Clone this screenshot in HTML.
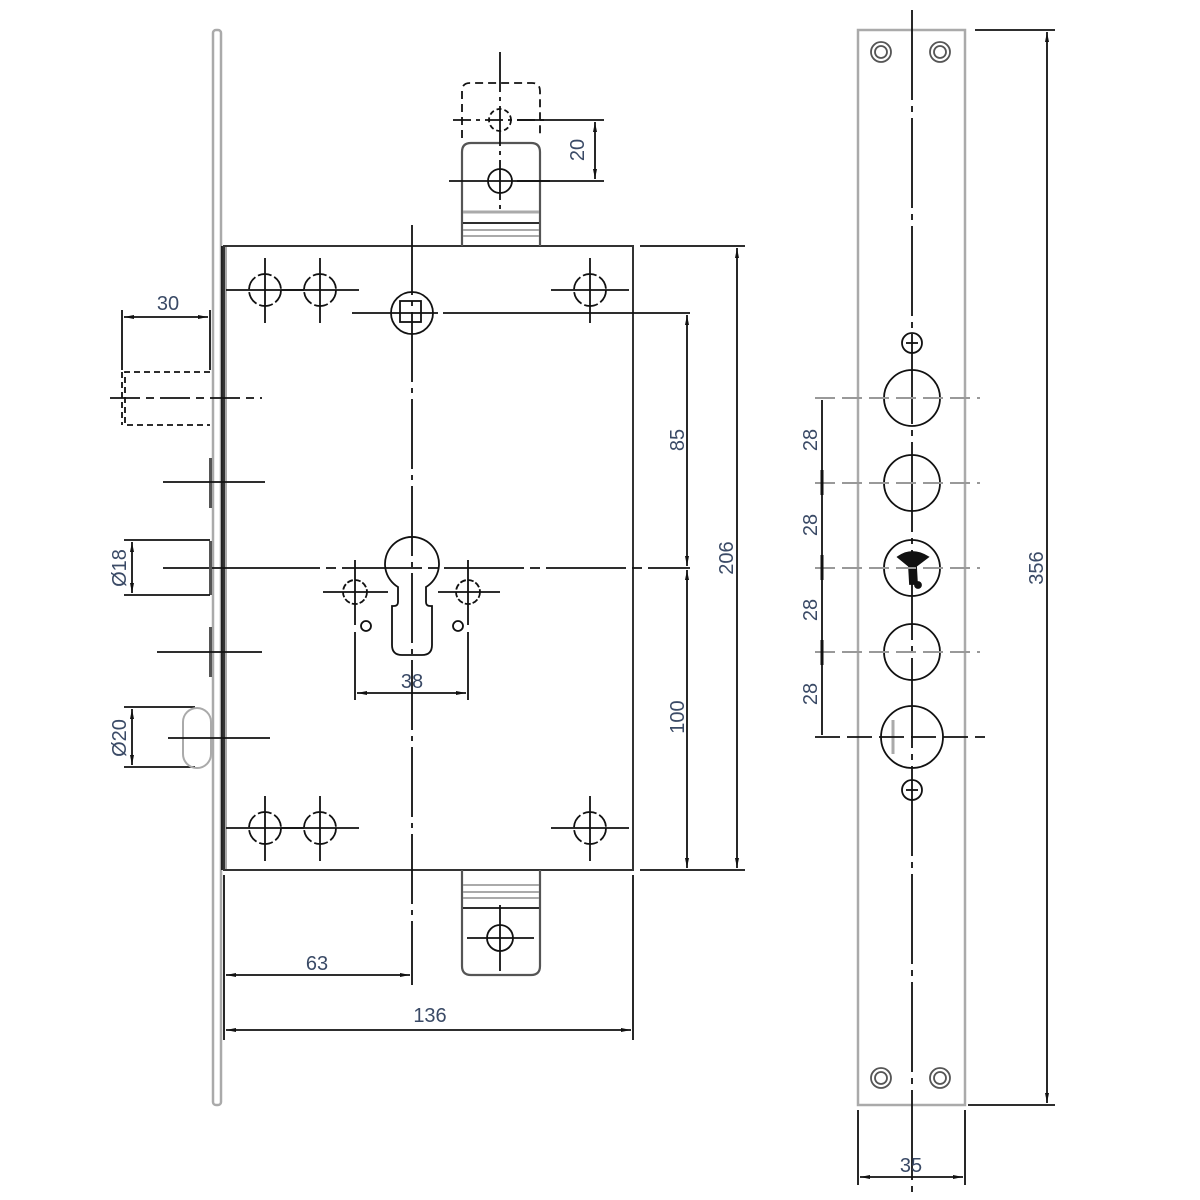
<!DOCTYPE html>
<html><head><meta charset="utf-8"><style>html,body{margin:0;padding:0;background:#fff}svg{display:block}</style></head>
<body>
<svg width="1200" height="1200" viewBox="0 0 1200 1200" xmlns="http://www.w3.org/2000/svg" font-family="Liberation Sans, sans-serif">
<defs>
<marker id="a" markerWidth="10" markerHeight="6" refX="10" refY="3" orient="auto-start-reverse" markerUnits="userSpaceOnUse"><path d="M0,1 L10,3 L0,5z" fill="#111"/></marker>
</defs>
<g fill="none" stroke="#111" stroke-width="1.8">
<rect x="213" y="30" width="8" height="1075" rx="3" stroke="#aaa" stroke-width="2.5"/>
<line x1="222" y1="246" x2="222" y2="870"/>
<line x1="226" y1="246" x2="226" y2="870" stroke="#aaa" stroke-width="2"/>
<rect x="224" y="246" width="409" height="624" stroke="#333" stroke-width="2"/>
<path d="M462,246 V152 q0,-9 9,-9 H531 q9,0 9,9 V246" stroke="#555" stroke-width="2.2"/>
<line x1="463" y1="212" x2="539" y2="212" stroke="#aaa" stroke-width="3"/>
<line x1="463" y1="223" x2="539" y2="223"/>
<line x1="463" y1="230" x2="539" y2="230" stroke="#aaa" stroke-width="2"/>
<line x1="463" y1="236" x2="539" y2="236" stroke="#aaa" stroke-width="2"/>
<path d="M462,138 V91 q0,-8 8,-8 H532 q8,0 8,8 V138" stroke-dasharray="8,5"/>
<circle cx="500" cy="120" r="11" stroke-dasharray="5,3"/>
<line x1="453" y1="120" x2="547" y2="120" stroke-dasharray="18,5,4,5"/>
<line x1="500" y1="52" x2="500" y2="213" stroke-dasharray="40,5,4,5"/>
<circle cx="500" cy="181" r="12"/>
<line x1="449" y1="181" x2="550" y2="181"/>
<line x1="517" y1="120" x2="604" y2="120"/>
<line x1="517" y1="181" x2="604" y2="181"/>
<line x1="595" y1="122" x2="595" y2="179" marker-start="url(#a)" marker-end="url(#a)"/>
<path d="M462,870 V966 q0,9 9,9 H531 q9,0 9,-9 V870" stroke="#555" stroke-width="2.2"/>
<line x1="463" y1="885" x2="539" y2="885" stroke="#aaa" stroke-width="2"/>
<line x1="463" y1="892" x2="539" y2="892" stroke="#aaa" stroke-width="2"/>
<line x1="463" y1="898" x2="539" y2="898" stroke="#aaa" stroke-width="2"/>
<line x1="463" y1="908" x2="539" y2="908"/>
<circle cx="500" cy="938" r="13"/>
<line x1="467" y1="938" x2="534" y2="938"/><line x1="500" y1="905" x2="500" y2="971"/>
<g id="h">
<circle cx="265" cy="290" r="16" stroke-dasharray="14,3"/><line x1="226" y1="290" x2="304" y2="290"/><line x1="265" y1="258" x2="265" y2="323"/>
</g>
<use href="#h" x="55"/><use href="#h" x="325"/><use href="#h" y="538"/><use href="#h" x="55" y="538"/><use href="#h" x="325" y="538"/>
<circle cx="412" cy="313" r="21"/>
<rect x="400" y="301" width="21" height="21"/>
<line x1="352" y1="313" x2="438" y2="313"/><line x1="443" y1="313" x2="690" y2="313"/>
<line x1="412" y1="225" x2="412" y2="985" stroke-dasharray="70,6,5,6"/>
<line x1="163" y1="568" x2="240" y2="568"/><line x1="240" y1="568" x2="690" y2="568" stroke-dasharray="80,6,10,6"/>
<path d="M398,587 A27,27 0 1 1 426,587 V602 Q426,606 430,606 H432 V645 Q432,655 422,655 H402 Q392,655 392,645 V606 H394 Q398,606 398,602 Z"/>
<circle cx="355" cy="592" r="12" stroke-dasharray="6,2"/><circle cx="468" cy="592" r="12" stroke-dasharray="6,2"/>
<line x1="323" y1="592" x2="388" y2="592"/><line x1="438" y1="592" x2="500" y2="592"/>
<line x1="355" y1="560" x2="355" y2="625"/><line x1="468" y1="560" x2="468" y2="625"/>
<circle cx="366" cy="626" r="5"/><circle cx="458" cy="626" r="5"/>
<line x1="355" y1="632" x2="355" y2="700"/><line x1="468" y1="632" x2="468" y2="700"/>
<line x1="357" y1="693" x2="466" y2="693" marker-start="url(#a)" marker-end="url(#a)"/>
<line x1="640" y1="246" x2="745" y2="246"/><line x1="640" y1="870" x2="745" y2="870"/>
<line x1="737" y1="248" x2="737" y2="868" marker-start="url(#a)" marker-end="url(#a)"/>
<line x1="687" y1="315" x2="687" y2="566" marker-start="url(#a)" marker-end="url(#a)"/>
<line x1="687" y1="570" x2="687" y2="868" marker-start="url(#a)" marker-end="url(#a)"/>
<line x1="224" y1="875" x2="224" y2="1040"/><line x1="633" y1="875" x2="633" y2="1040"/>
<line x1="226" y1="975" x2="410" y2="975" marker-start="url(#a)" marker-end="url(#a)"/>
<line x1="226" y1="1030" x2="631" y2="1030" marker-start="url(#a)" marker-end="url(#a)"/>
<line x1="122" y1="310" x2="122" y2="370"/><line x1="210" y1="310" x2="210" y2="370"/>
<line x1="124" y1="317" x2="208" y2="317" marker-start="url(#a)" marker-end="url(#a)"/>
<path d="M210,372 H125 V425 H210" stroke-dasharray="6,4"/><line x1="122" y1="372" x2="122" y2="425" stroke-dasharray="6,4"/>
<line x1="110" y1="398" x2="262" y2="398" stroke-dasharray="30,6,8,6"/>
<rect x="209" y="458" width="3" height="50" fill="#555" stroke="none"/>
<rect x="209" y="541" width="3" height="54" fill="#555" stroke="none"/>
<rect x="209" y="627" width="3" height="50" fill="#555" stroke="none"/>
<line x1="163" y1="482" x2="265" y2="482"/>
<line x1="157" y1="652" x2="262" y2="652"/>
<line x1="124" y1="540" x2="210" y2="540"/><line x1="124" y1="595" x2="210" y2="595"/>
<line x1="132" y1="542" x2="132" y2="593" marker-start="url(#a)" marker-end="url(#a)"/>
<line x1="124" y1="707" x2="195" y2="707"/><line x1="124" y1="767" x2="195" y2="767"/>
<line x1="132" y1="709" x2="132" y2="765" marker-start="url(#a)" marker-end="url(#a)"/>
<rect x="183" y="708" width="28" height="60" rx="14" stroke="#aaa" stroke-width="2"/>
<line x1="168" y1="738" x2="270" y2="738"/>
<rect x="858" y="30" width="107" height="1075" stroke="#aaa" stroke-width="2.5"/>
<line x1="912" y1="10" x2="912" y2="1195" stroke-dasharray="90,6,6,6"/>
<g stroke="#555"><circle cx="881" cy="52" r="10"/><circle cx="881" cy="52" r="6"/><circle cx="940" cy="52" r="10"/><circle cx="940" cy="52" r="6"/>
<circle cx="881" cy="1078" r="10"/><circle cx="881" cy="1078" r="6"/><circle cx="940" cy="1078" r="10"/><circle cx="940" cy="1078" r="6"/></g>
<circle cx="912" cy="343" r="10"/><circle cx="912" cy="790" r="10"/>
<line x1="906" y1="343" x2="918" y2="343"/><line x1="906" y1="790" x2="918" y2="790"/>
<circle cx="912" cy="398" r="28"/><circle cx="912" cy="483" r="28"/><circle cx="912" cy="568" r="28"/><circle cx="912" cy="652" r="28"/><circle cx="912" cy="737" r="31"/>
<line x1="893" y1="720" x2="893" y2="754" stroke="#aaa" stroke-width="3"/>
<path d="M898,557 Q912,547 928,557 L916,566 L917,584 L910,584 L909,566 Z" fill="#111"/><circle cx="918" cy="585" r="3" fill="#111"/>
<g stroke="#999" stroke-width="2" stroke-dasharray="20,7">
<line x1="815" y1="398" x2="980" y2="398"/><line x1="815" y1="483" x2="980" y2="483"/><line x1="815" y1="568" x2="980" y2="568"/><line x1="815" y1="652" x2="980" y2="652"/></g>
<line x1="815" y1="737" x2="985" y2="737" stroke-dasharray="25,7"/>
<line x1="822" y1="400" x2="822" y2="735"/>
<line x1="822" y1="470" x2="822" y2="495" stroke-width="3"/><line x1="822" y1="555" x2="822" y2="580" stroke-width="3"/><line x1="822" y1="640" x2="822" y2="665" stroke-width="3"/>
<line x1="975" y1="30" x2="1055" y2="30"/><line x1="968" y1="1105" x2="1055" y2="1105"/>
<line x1="1047" y1="32" x2="1047" y2="1103" marker-start="url(#a)" marker-end="url(#a)"/>
<line x1="858" y1="1110" x2="858" y2="1185"/><line x1="965" y1="1110" x2="965" y2="1185"/>
<line x1="860" y1="1177" x2="963" y2="1177" marker-start="url(#a)" marker-end="url(#a)"/>
</g>
<g fill="#3a4a66" font-size="20" text-anchor="middle">
<text x="168" y="310">30</text>
<text x="317" y="970">63</text>
<text x="430" y="1022">136</text>
<text x="412" y="688">38</text>
<text x="911" y="1172">35</text>
<text transform="translate(584,150) rotate(-90)">20</text>
<text transform="translate(684,440) rotate(-90)">85</text>
<text transform="translate(684,717) rotate(-90)">100</text>
<text transform="translate(733,558) rotate(-90)">206</text>
<text transform="translate(1043,568) rotate(-90)">356</text>
<text transform="translate(126,568) rotate(-90)">Ø18</text>
<text transform="translate(126,738) rotate(-90)">Ø20</text>
<text transform="translate(817,440) rotate(-90)">28</text>
<text transform="translate(817,525) rotate(-90)">28</text>
<text transform="translate(817,610) rotate(-90)">28</text>
<text transform="translate(817,694) rotate(-90)">28</text>
</g>
</svg>
</body></html>
